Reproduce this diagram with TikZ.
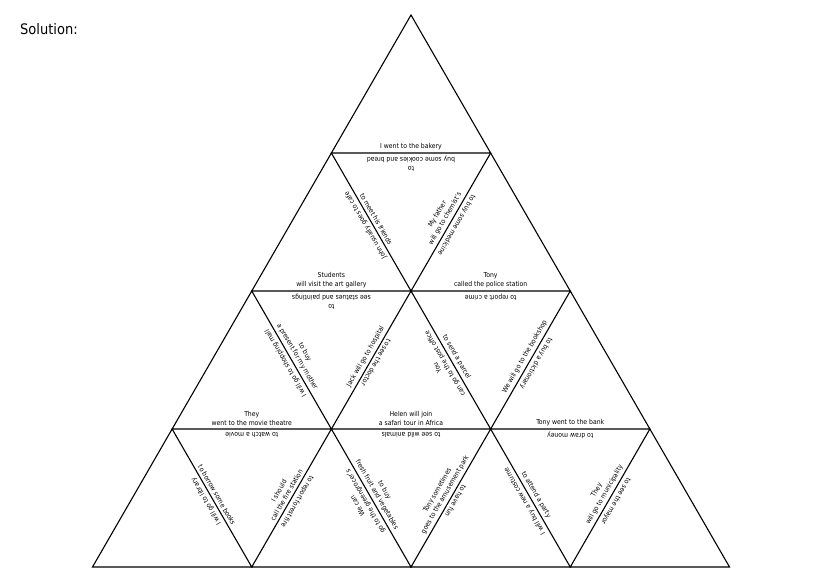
\documentclass[tikz,border=0pt]{standalone}
\usepackage{fontspec}
\setmainfont{DejaVu Sans Condensed}
\begin{document}
\begin{tikzpicture}[x=1pt,y=-1pt,
  edge/.style={draw=black,line width=1.1pt,line join=miter},
  lab/.style={anchor=south,align=center,inner sep=3pt,font=\fontsize{6.8}{8.8}\selectfont},
  title/.style={anchor=base west,inner sep=0pt,font=\fontsize{14.5}{17}\selectfont}]
\fill[white] (0,0) rectangle (821,581);
\useasboundingbox (0,0) rectangle (821,581);
% grid points
\foreach \k in {0,...,4}{
  \foreach \j in {0,...,\k}{
    \coordinate (P\k\j) at ({411-79.625*\k+159.25*\j},{15+138*\k});
  }
}
% upward triangles (cover all edges)
\foreach \k/\km in {1/0,2/1,3/2,4/3}{
  \foreach \j in {1,...,\k}{
    \pgfmathtruncatemacro{\jm}{\j-1}
    \draw[edge] (P\km\jm) -- (P\k\jm) -- (P\k\j) -- cycle;
  }
}
\node[title] (sol) at (20,34) {Solution:};
\newcommand\elab[5]{\path (#2) -- (#3) node[midway,lab,rotate=#4] (#1) {#5};}
% row 1/2 boundary
\elab{a1}{P10}{P11}{0}{I went to the bakery}
\elab{a2}{P10}{P11}{180}{to\\buy some cookies and bread}
\elab{b1}{P10}{P21}{-60}{to meet his friends}
\elab{b2}{P10}{P21}{120}{John usually goes to cafe}
\elab{c1}{P11}{P21}{60}{My father\\will go to chemist's}
\elab{c2}{P11}{P21}{-120}{to buy some medicine}
% row 2/3 boundary
\elab{d1}{P20}{P21}{0}{Students\\will visit the art gallery}
\elab{d2}{P20}{P21}{180}{to\\see statues and paintings}
\elab{e1}{P21}{P22}{0}{Tony\\called the police station}
\elab{e2}{P21}{P22}{180}{to report a crime}
\elab{f1}{P20}{P31}{-60}{to buy\\a present for my mother}
\elab{f2}{P20}{P31}{120}{I will go to shopping mall}
\elab{g1}{P21}{P31}{60}{Jack will go to hospital}
\elab{g2}{P21}{P31}{-120}{to see the doctor}
\elab{h1}{P21}{P32}{-60}{to send a parcel}
\elab{h2}{P21}{P32}{120}{You\\can go to the post office}
\elab{i1}{P22}{P32}{60}{We will go to the bookshop}
\elab{i2}{P22}{P32}{-120}{to buy a dictionary}
% row 3/4 boundary
\elab{j1}{P30}{P31}{0}{They\\went to the movie theatre}
\elab{j2}{P30}{P31}{180}{to watch a movie}
\elab{k1}{P31}{P32}{0}{Helen will join\\a safari tour in Africa}
\elab{k2}{P31}{P32}{180}{to see wild animals}
\elab{l1}{P32}{P33}{0}{Tony went to the bank}
\elab{l2}{P32}{P33}{180}{to draw money}
\elab{m1}{P30}{P41}{-60}{to borrow some books}
\elab{m2}{P30}{P41}{120}{I will go to library}
\elab{n1}{P31}{P41}{60}{I should\\call the fire station}
\elab{n2}{P31}{P41}{-120}{to report forest fire}
\elab{o1}{P31}{P42}{-60}{to buy\\fresh fruit and vegetables}
\elab{o2}{P31}{P42}{120}{We can\\go to the greengrocer's}
\elab{p1}{P32}{P42}{60}{Tony sometimes\\goes to the amusement park}
\elab{p2}{P32}{P42}{-120}{to have fun}
\elab{q1}{P32}{P43}{-60}{to attend a party}
\elab{q2}{P32}{P43}{120}{I will buy a new costume}
\elab{r1}{P33}{P43}{60}{They\\will go to municipality}
\elab{r2}{P33}{P43}{-120}{to see the mayor}
\end{tikzpicture}
\end{document}
